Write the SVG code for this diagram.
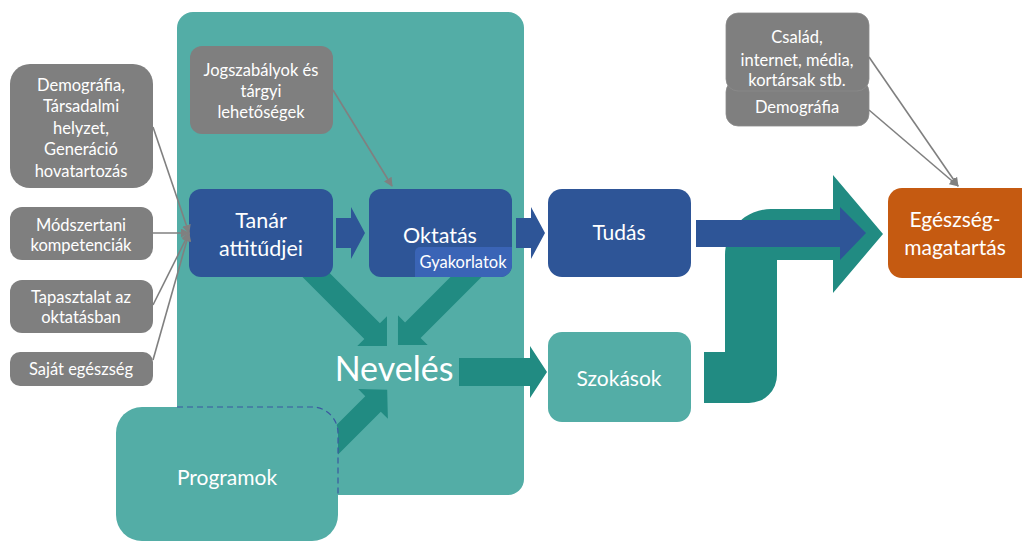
<svg xmlns="http://www.w3.org/2000/svg" width="1022" height="542" viewBox="0 0 1022 542">
<defs>
<style>
text{font-family:Lato,"Liberation Sans",sans-serif;fill:#ffffff;text-anchor:middle}
.gray{fill:#7f7f7f}
.blue{fill:#2e5597}
.teal{fill:#53ada6}
.dteal{fill:#218b82}
.t15{font-size:16.5px}
.t20{font-size:21px}
.t21{font-size:21.5px}
.conn{stroke:#808080;stroke-width:1.6;fill:none}
</style>
<marker id="ah" viewBox="0 0 10 10" refX="9" refY="5" markerWidth="9" markerHeight="9" markerUnits="userSpaceOnUse" orient="auto">
<path d="M0,0 L10,5 L0,10 z" fill="#808080"/>
</marker>
</defs>
<rect width="1022" height="542" fill="#ffffff"/>

<g id="container">
<rect x="177" y="12" width="347" height="483" rx="16" class="teal"/>
</g>

<g id="jogszabalyok">
<rect x="190" y="46" width="143" height="88" rx="12" class="gray"/>
<text class="t15" x="261" y="76">Jogszabályok és</text>
<text class="t15" x="261" y="97">tárgyi</text>
<text class="t15" x="261" y="118">lehetőségek</text>
</g>

<g id="arrows-neveles">
<polygon class="dteal" transform="translate(300,259) rotate(45)" points="0,-11 102,-11 102,-21 123,0 102,21 102,11 0,11"/>
<polygon class="dteal" transform="translate(480,263) rotate(135)" points="0,-11 95,-11 95,-21 116,0 95,21 95,11 0,11"/>
<polygon class="dteal" transform="translate(320,457) rotate(-45)" points="0,-11 75,-11 75,-21 95,0 75,21 75,11 0,11"/>
</g>

<g id="tanar">
<rect x="189" y="189" width="144" height="88" rx="12" class="blue"/>
<text class="t21" x="261" y="228">Tanár</text>
<text class="t21" x="261" y="256">attitűdjei</text>
</g>

<g id="oktatas">
<rect x="369" y="189" width="143" height="88" rx="12" class="blue"/>
<text class="t21" x="440" y="243">Oktatás</text>
</g>

<g id="gyakorlatok">
<path d="M420,247 H512 V265 A12,12 0 0 1 500,277 H415 V252 A5,5 0 0 1 420,247 Z" fill="#3a64b6"/>
<text class="t15" x="463" y="268">Gyakorlatok</text>
</g>

<g id="neveles">
<text x="394" y="381" style="font-size:34px">Nevelés</text>
</g>

<g id="programok">
<rect x="116" y="407" width="222" height="134" rx="26" class="teal"/>
<path d="M177,407 H312 A26,26 0 0 1 338,433 V495" fill="none" stroke="#3b58a0" stroke-width="1.2" stroke-dasharray="6,4"/>
<text class="t20" x="227" y="485">Programok</text>
</g>

<g id="arrow-szokasok">
<polygon class="dteal" points="459,358 530,358 530,346 547,372 530,398 530,386 459,386"/>
</g>

<g id="szokasok">
<rect x="548" y="332" width="143" height="90" rx="14" class="teal"/>
<text class="t20" x="619" y="386">Szokások</text>
</g>

<g id="tudas">
<rect x="548" y="189" width="143" height="88" rx="14" class="blue"/>
<text class="t20" x="619" y="240">Tudás</text>
</g>

<g id="bent-arrow">
<path class="dteal" d="M704,352 H725 V255 A46,46 0 0 1 771,209 H833 V175 L883,234 L833,293 V260 H777 V375 A28,28 0 0 1 749,403 H704 Z"/>
</g>

<g id="arrow-tudas">
<polygon class="blue" points="696,220 840,220 840,207 866,233 840,260 840,247 696,247"/>
</g>

<g id="arrow-tanar-oktatas">
<polygon class="blue" points="336,218 351,218 351,207 365,233 351,259 351,248 336,248"/>
<polygon class="blue" points="516,218 531,218 531,207 545,233 531,259 531,248 516,248"/>
</g>

<g id="egeszseg">
<rect x="888" y="188" width="150" height="90" rx="14" fill="#c55a11"/>
<text class="t20" x="955" y="227">Egészség-</text>
<text class="t20" x="955" y="255">magatartás</text>
</g>

<g id="demografia-right">
<rect x="726" y="80" width="143" height="46" rx="12" class="gray" stroke="#8c8c8c" stroke-width="0.8"/>
<text class="t15" x="797" y="113">Demográfia</text>
</g>
<g id="csalad">
<rect x="726" y="13" width="143" height="78" rx="12" class="gray" stroke="#8c8c8c" stroke-width="0.8"/>
<text class="t15" x="797" y="43">Család,</text>
<text class="t15" x="797" y="66">internet, média,</text>
<text class="t15" x="797" y="86">kortársak stb.</text>
</g>

<g id="demografia-left">
<rect x="10" y="64" width="143" height="124" rx="20" class="gray"/>
<text class="t15" x="81" y="91">Demográfia,</text>
<text class="t15" x="81" y="112">Társadalmi</text>
<text class="t15" x="81" y="134">helyzet,</text>
<text class="t15" x="81" y="155">Generáció</text>
<text class="t15" x="81" y="177">hovatartozás</text>
</g>
<g id="modszertani">
<rect x="10" y="207" width="143" height="53" rx="12" class="gray"/>
<text class="t15" x="81" y="231">Módszertani</text>
<text class="t15" x="81" y="251">kompetenciák</text>
</g>
<g id="tapasztalat">
<rect x="10" y="280" width="143" height="53" rx="12" class="gray"/>
<text class="t15" x="81" y="303">Tapasztalat az</text>
<text class="t15" x="81" y="323">oktatásban</text>
</g>
<g id="sajat">
<rect x="10" y="352" width="143" height="34" rx="10" class="gray"/>
<text class="t15" x="81" y="375">Saját egészség</text>
</g>

<g id="connectors">
<line class="conn" x1="153" y1="127" x2="189" y2="233" marker-end="url(#ah)"/>
<line class="conn" x1="153" y1="233" x2="189" y2="233" marker-end="url(#ah)"/>
<line class="conn" x1="153" y1="305" x2="189" y2="233" marker-end="url(#ah)"/>
<line class="conn" x1="153" y1="360" x2="189" y2="233" marker-end="url(#ah)"/>
<line class="conn" x1="333" y1="90" x2="392" y2="186" marker-end="url(#ah)"/>
<line class="conn" x1="869" y1="57" x2="958" y2="186" marker-end="url(#ah)"/>
<line class="conn" x1="869" y1="110" x2="958" y2="186" marker-end="url(#ah)"/>
</g>
</svg>
